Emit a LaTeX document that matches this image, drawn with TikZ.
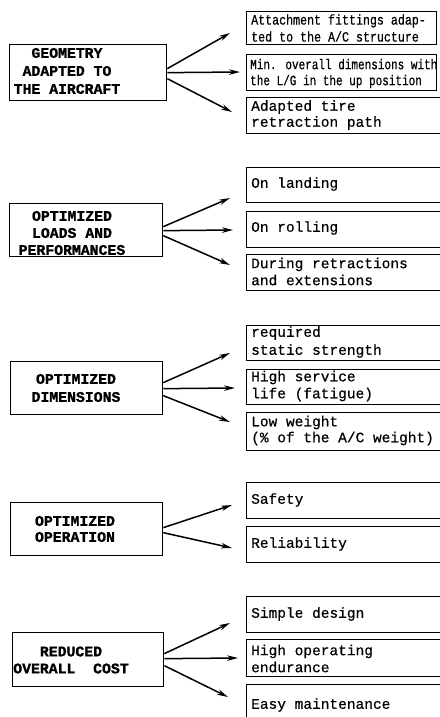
\documentclass[tikz,border=0pt]{standalone}
\usepackage{fontspec}
\setmainfont{Liberation Mono}
\newfontfamily\itemfont{Liberation Mono}[FakeBold=0.5]
\newfontfamily\narrowfont{Liberation Mono}[FakeBold=0.5, FakeStretch=0.82]
\newfontfamily\narrowerfont{Liberation Mono}[FakeBold=0.5, FakeStretch=0.775]
\newfontfamily\headfont{Liberation Mono}[BoldFeatures={FakeBold=1.2}]
\usetikzlibrary{arrows.meta,calc}

\begin{document}
\begin{tikzpicture}[x=1pt,y=-1pt,
  frame/.style={draw, line width=1.3pt, inner sep=0pt, anchor=north west},
  headtext/.style={inner sep=0pt, align=center, font=\headfont\fontsize{14.8}{#1}\selectfont\bfseries},
  itemtext/.style={inner sep=0pt, anchor=west, align=left, font=\itemfont\fontsize{14.5}{#1}\selectfont},
  link/.style={line width=1.5pt, -{Stealth[length=11pt,width=5.5pt]}}]
\useasboundingbox (0,0) rectangle (439,717);

% ---- main requirement boxes (left column)
\node[frame, minimum width=157pt, minimum height=56pt] (L1) at (9,44) {};
\node[headtext=18] (L1t) at (67,71) {GEOMETRY\\ADAPTED TO\\THE AIRCRAFT};
\node[frame, minimum width=153pt, minimum height=53pt] (L2) at (9,203) {};
\node[headtext=17] (L2t) at (72,233) {OPTIMIZED\\LOADS AND\\PERFORMANCES};
\node[frame, minimum width=152pt, minimum height=53pt] (L3) at (10,361) {};
\node[headtext=18] (L3t) at (76,388) {OPTIMIZED\\DIMENSIONS};
\node[frame, minimum width=152pt, minimum height=53pt] (L4) at (10,502) {};
\node[headtext=16] (L4t) at (75,529) {OPTIMIZED\\OPERATION};
\node[frame, minimum width=151pt, minimum height=54pt] (L5) at (12,632) {};
\node[headtext=17] (L5t) at (71,660) {REDUCED\\OVERALL\ \ COST};

% ---- detail boxes (right column)
\node[frame, minimum width=190pt, minimum height=33pt] (R11) at (246,11) {};
\node[itemtext=17, font=\narrowfont\fontsize{14.2}{17}\selectfont] (R11t) at (251,28) {Attachment fittings adap-\\ted to the A/C structure};
\node[frame, minimum width=190pt, minimum height=36pt] (R12) at (246,54) {};
\node[itemtext=16, font=\narrowerfont\fontsize{14.2}{16}\selectfont] (R12t) at (250,73.5) {Min. overall dimensions with\\the L/G in the up position};
\node[frame, minimum width=200pt, minimum height=36pt] (R13) at (246,97) {};
\node[itemtext=16] (R13t) at (251,115) {Adapted tire\\retraction path};

\node[frame, minimum width=200pt, minimum height=35pt] (R21) at (246,167) {};
\node[itemtext=17] (R21t) at (251,184) {On landing};
\node[frame, minimum width=200pt, minimum height=36pt] (R22) at (246,211) {};
\node[itemtext=17] (R22t) at (251,228) {On rolling};
\node[frame, minimum width=200pt, minimum height=36pt] (R23) at (246,254) {};
\node[itemtext=17] (R23t) at (251,271.5) {During retractions\\and extensions};

\node[frame, minimum width=200pt, minimum height=35pt] (R31) at (246,325) {};
\node[itemtext=18] (R31t) at (251,342) {required\\static strength};
\node[frame, minimum width=200pt, minimum height=35pt] (R32) at (246,369) {};
\node[itemtext=17] (R32t) at (251,386) {High service\\life (fatigue)};
\node[frame, minimum width=200pt, minimum height=38pt] (R33) at (246,412) {};
\node[itemtext=16] (R33t) at (251,430.5) {Low weight\\(\% of the A/C weight)};

\node[frame, minimum width=200pt, minimum height=36pt] (R41) at (246,482) {};
\node[itemtext=17] (R41t) at (251,500) {Safety};
\node[frame, minimum width=200pt, minimum height=36pt] (R42) at (246,526) {};
\node[itemtext=17] (R42t) at (251,544) {Reliability};

\node[frame, minimum width=200pt, minimum height=36pt] (R51) at (246,596) {};
\node[itemtext=17] (R51t) at (251,614) {Simple design};
\node[frame, minimum width=200pt, minimum height=37pt] (R52) at (246,639) {};
\node[itemtext=17] (R52t) at (251,658.5) {High operating\\endurance};
\node[frame, minimum width=200pt, minimum height=40pt] (R53) at (246,684) {};
\node[itemtext=17] (R53t) at (251,705) {Easy maintenance};

% ---- arrow tips
\coordinate (e11) at (230,33);  \coordinate (e12) at (240,72);  \coordinate (e13) at (232,112);
\coordinate (e21) at (230,198); \coordinate (e22) at (233,230); \coordinate (e23) at (230,265);
\coordinate (e31) at (230,353); \coordinate (e32) at (235,388); \coordinate (e33) at (230,422);
\coordinate (e41) at (232,505); \coordinate (e42) at (232,548);
\coordinate (e51) at (230,623); \coordinate (e52) at (238,658); \coordinate (e53) at (228,697);

% ---- arrows
\draw[link] ($(L1.east)+(0,-4)$) -- (e11);
\draw[link] (L1.east) -- (e12);
\draw[link] ($(L1.east)+(0,6)$) -- (e13);
\draw[link] ($(L2.east)+(0,-3.5)$) -- (e21);
\draw[link] ($(L2.east)+(0,0.5)$) -- (e22);
\draw[link] ($(L2.east)+(0,5.5)$) -- (e23);
\draw[link] ($(L3.east)+(0,-5.5)$) -- (e31);
\draw[link] ($(L3.east)+(0,0.5)$) -- (e32);
\draw[link] ($(L3.east)+(0,7.5)$) -- (e33);
\draw[link] ($(L4.east)+(0,-1.5)$) -- (e41);
\draw[link] ($(L4.east)+(0,3.5)$) -- (e42);
\draw[link] ($(L5.east)+(0,-6)$) -- (e51);
\draw[link] ($(L5.east)+(0,-1)$) -- (e52);
\draw[link] ($(L5.east)+(0,6)$) -- (e53);
\end{tikzpicture}
\end{document}
